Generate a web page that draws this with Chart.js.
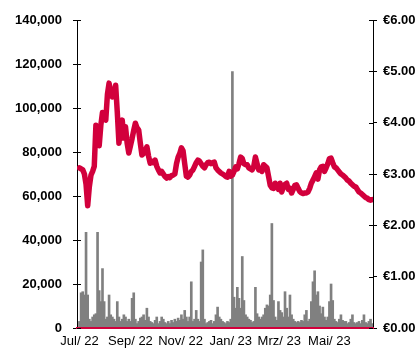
<!DOCTYPE html>
<html>
<head>
<meta charset="utf-8">
<script src="https://cdn.jsdelivr.net/npm/chart.js@4/dist/chart.umd.min.js"></script>
<style>
html, body { margin: 0; padding: 0; background: #fff; }
#wrap { width: 418px; height: 349px; }
</style>
</head>
<body>
<div id="wrap"><canvas id="chart" width="418" height="349"></canvas></div>
<script>
// one value every 2 calendar days, starting 1 Jul 2022
var stepDays = 2;

var volume = [
    3000, 16000, 16500, 15000, 43500, 15000, 4000, 3000, 5000, 6000,
    6500, 43500, 17000, 12000, 27000, 12000, 4000, 5000, 15000, 6000,
    5000, 4000, 3000, 12000, 5000, 3000, 4000, 6000, 5000, 3000,
    4000, 3000, 13500, 16000, 4000, 2000, 3000, 4500, 5000, 6000,
    3500, 9000, 5000, 3000, 2500, 2000, 3500, 5000, 2000, 3000,
    5000, 4000, 2500, 2000, 3000, 2000, 3500, 2500, 4000, 3000,
    4500, 3500, 6000, 4000, 8000, 5000, 3000, 5000, 21000, 3000,
    4000, 8000, 4000, 3000, 30000, 35500, 4000, 2000, 2500, 3000,
    3500, 2000, 3000, 6000, 9500, 5000, 4000, 3000, 2500, 2000,
    3000, 2500, 4000, 116500, 14000, 9000, 18500, 13500, 9000, 32500,
    12500, 6000, 5000, 4000, 3500, 2500, 3000, 18500, 6500, 5000,
    4000, 5000, 6000, 9000, 10500, 10000, 15000, 47500, 12500, 5000,
    3500, 12000, 8000, 7000, 5000, 16500, 9000, 5000, 15000, 6000,
    4000, 3000, 2500, 3000, 2500, 3500, 3000, 6000, 8000, 3000,
    4000, 12000, 21000, 26000, 15000, 16500, 10000, 6500, 9500, 5000,
    3500, 5000, 12000, 20000, 12500, 4000, 3000, 2500, 4000, 6000,
    3500, 3000, 3000, 2000, 2500, 4000, 6000, 2500, 2000, 2500,
    3000, 2000, 3500, 6000, 2500, 2000, 3000, 4000, 2000
];

var price = [
    3.12, 3.10, 3.08, 3.00, 2.80, 2.38, 2.75, 2.98, 3.05, 3.15,
    3.95, 3.80, 3.55, 3.95, 4.20, 4.10, 4.05, 4.55, 4.77, 4.60,
    4.50, 4.55, 4.73, 4.20, 3.60, 3.90, 4.05, 3.70, 3.92, 3.60,
    3.41, 3.55, 3.69, 3.85, 3.99, 3.90, 3.86, 3.60, 3.37, 3.40,
    3.45, 3.53, 3.35, 3.21, 3.25, 3.22, 3.27, 3.15, 3.08, 3.02,
    3.05, 3.00, 2.95, 2.92, 2.95, 2.93, 2.97, 2.98, 3.00, 3.20,
    3.33, 3.40, 3.51, 3.45, 3.20, 2.96, 2.94, 2.98, 3.05, 3.08,
    3.15, 3.22, 3.27, 3.25, 3.20, 3.15, 3.12, 3.18, 3.22, 3.23,
    3.20, 3.22, 3.23, 3.12, 3.08, 3.05, 3.02, 3.00, 2.98, 2.95,
    2.94, 3.05, 2.96, 2.98, 3.05, 3.14, 3.10, 3.20, 3.33, 3.30,
    3.20, 3.18, 3.18, 3.12, 3.10, 3.08, 3.15, 3.33, 3.20, 3.08,
    3.10, 3.05, 3.18, 3.15, 3.12, 2.95, 2.78, 2.73, 2.72, 2.82,
    2.79, 2.70, 2.82, 2.65, 2.75, 2.80, 2.82, 2.70, 2.72, 2.63,
    2.70, 2.78, 2.79, 2.72, 2.66, 2.63, 2.62, 2.63, 2.63, 2.65,
    2.72, 2.82, 2.88, 2.95, 3.02, 2.90, 3.08, 3.14, 3.15, 3.05,
    3.12, 3.20, 3.30, 3.31, 3.22, 3.14, 3.12, 3.08, 3.04, 3.00,
    2.98, 2.95, 2.92, 2.88, 2.86, 2.82, 2.79, 2.76, 2.75, 2.70,
    2.65, 2.63, 2.60, 2.57, 2.54, 2.53, 2.50, 2.49, 2.50
];

// days since 1 Jul 2022 of the first day of every second month
var monthTicks = [0, 62, 123, 184, 243, 304];
var monthLabels = ['Jul/ 22', 'Sep/ 22', 'Nov/ 22', 'Jan/ 23', 'Mrz/ 23', 'Mai/ 23'];

var volumeTicks = [0, 20000, 40000, 60000, 80000, 100000, 120000, 140000];
var priceTicks = [0, 1, 2, 3, 4, 5, 6];

var red = '#d2003c';
var grey = '#808080';

var volumePoints = volume.map(function (v, i) { return { x: i * stepDays, y: v }; });
var pricePoints = price.map(function (v, i) { return { x: i * stepDays, y: v }; });

// draw the part of the y tick marks that sits inside the plot
var innerTicks = {
    id: 'innerTicks',
    afterDraw: function (chart) {
        var ctx = chart.ctx;
        ctx.save();
        ctx.strokeStyle = '#000';
        ctx.lineWidth = 1;
        ['y', 'y1'].forEach(function (id) {
            var s = chart.scales[id];
            var x = id === 'y' ? s.right : s.left;
            var dir = id === 'y' ? 1 : -1;
            s.ticks.forEach(function (t) {
                var py = Math.round(s.getPixelForValue(t.value)) + 0.5;
                ctx.beginPath();
                ctx.moveTo(x, py);
                ctx.lineTo(x + dir * 4, py);
                ctx.stroke();
            });
        });
        ctx.restore();
    }
};

new Chart(document.getElementById('chart'), {
    type: 'bar',
    data: {
        datasets: [
            {
                type: 'line',
                data: pricePoints,
                yAxisID: 'y1',
                borderColor: red,
                borderWidth: 5.5,
                borderJoinStyle: 'round',
                borderCapStyle: 'round',
                pointRadius: 0,
                tension: 0,
                order: 0
            },
            {
                type: 'bar',
                data: volumePoints,
                yAxisID: 'y',
                backgroundColor: grey,
                barThickness: 2,
                order: 1
            }
        ]
    },
    options: {
        responsive: false,
        animation: false,
        devicePixelRatio: 1,
        layout: { padding: { top: 20, left: 0, right: 0, bottom: 0 } },
        plugins: {
            legend: { display: false },
            tooltip: { enabled: false }
        },
        scales: {
            x: {
                type: 'linear',
                position: 'bottom',
                min: -3,
                max: 357,
                offset: false,
                grid: { drawOnChartArea: false, drawTicks: false },
                border: { color: red, width: 2, z: 1 },
                afterBuildTicks: function (s) {
                    s.ticks = monthTicks.map(function (v) { return { value: v }; });
                },
                ticks: {
                    autoSkip: false,
                    maxRotation: 0,
                    padding: 6,
                    color: '#000',
                    font: { family: 'Liberation Sans, Arial, sans-serif', size: 13 },
                    callback: function (v) {
                        var k = monthTicks.indexOf(v);
                        return k >= 0 ? monthLabels[k] : '';
                    }
                },
                afterFit: function (s) { s.height = 21; }
            },
            y: {
                position: 'left',
                min: 0,
                max: 140000,
                afterBuildTicks: function (s) {
                    s.ticks = volumeTicks.map(function (v) { return { value: v }; });
                },
                grid: { drawOnChartArea: false, tickLength: 4, color: '#000' },
                border: { color: '#000', width: 1 },
                ticks: {
                    padding: 11,
                    color: '#000',
                    font: { family: 'Liberation Sans, Arial, sans-serif', size: 13, weight: 'bold' },
                    callback: function (v) { return v.toLocaleString('en-US'); }
                },
                afterFit: function (s) { s.width = 77; }
            },
            y1: {
                position: 'right',
                min: 0,
                max: 6,
                afterBuildTicks: function (s) {
                    s.ticks = priceTicks.map(function (v) { return { value: v }; });
                },
                grid: { drawOnChartArea: false, tickLength: 4, color: '#000' },
                border: { color: '#000', width: 1 },
                ticks: {
                    padding: 6,
                    color: '#000',
                    font: { family: 'Liberation Sans, Arial, sans-serif', size: 13, weight: 'bold' },
                    callback: function (v) { return '€' + v.toFixed(2); }
                },
                afterFit: function (s) { s.width = 45; }
            }
        }
    },
    plugins: [innerTicks]
});
</script>
</body>
</html>
